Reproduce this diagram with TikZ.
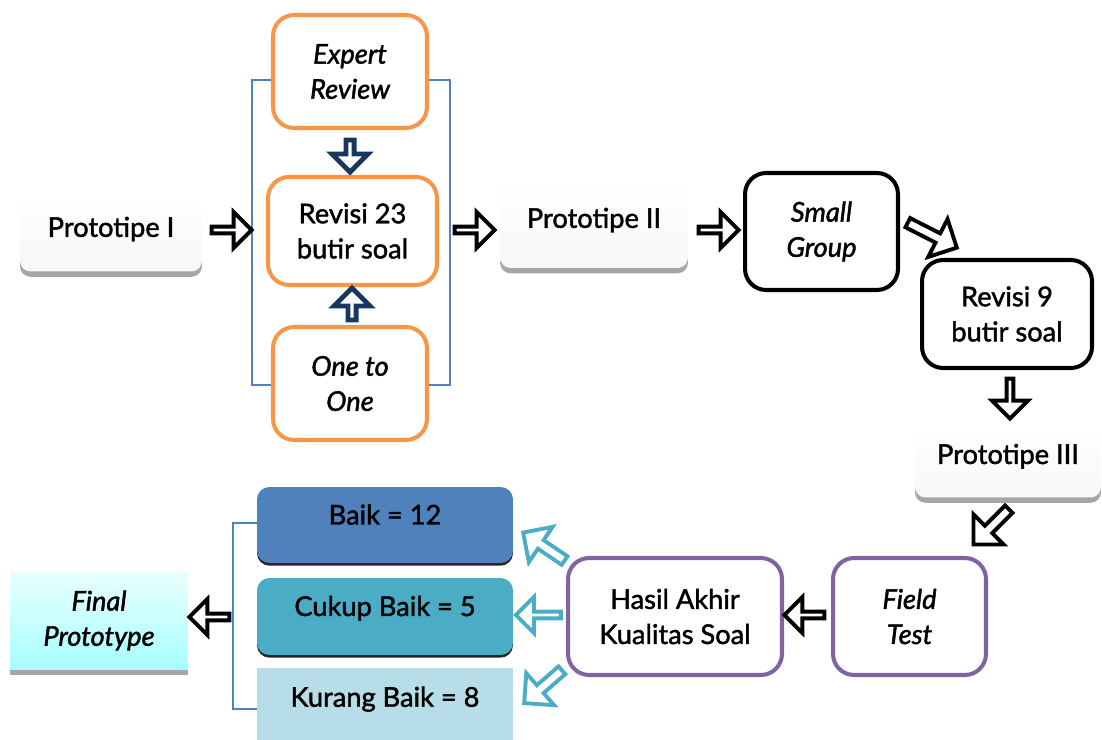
\documentclass[tikz,border=0pt]{standalone}
\usepackage{fontspec}
\setmainfont{Lato}[FakeBold=1.6]
\usetikzlibrary{shapes.arrows,shadows}

\definecolor{oranye}{HTML}{F79646}
\definecolor{ungu}{HTML}{8064A2}
\definecolor{biru}{HTML}{4F81BD}
\definecolor{navy}{HTML}{17375E}
\definecolor{tosca}{HTML}{4BACC6}
\definecolor{muda}{HTML}{B7DDE8}

\begin{document}
\begin{tikzpicture}[
    x=0.02cm, y=-0.02cm,
    font=\fontsize{15.5}{20}\selectfont,
    proto/.style={rectangle, rounded corners=6pt, top color=white, bottom color=gray!6,
        align=center, drop shadow={shadow xshift=0pt, shadow yshift=-3pt, fill=gray!70, opacity=1}},
    kotak/.style={rectangle, draw, rounded corners=12pt, line width=2.3pt, fill=white, align=center},
    hasil/.style={rectangle, rounded corners=7pt, align=center, text depth=12pt,
        drop shadow={shadow xshift=0pt, shadow yshift=-1.5pt, fill=black!85, opacity=1}},
    panah/.style={single arrow, draw, fill=white, line width=2.2pt, inner sep=0pt,
        minimum width=0.72cm, minimum height=0.8cm, single arrow head extend=0.17cm},
    miring/.style={panah, minimum width=0.85cm, single arrow head extend=0.12cm},
    panahnavy/.style={panah, draw=navy, line width=2.8pt},
    panahtosca/.style={panah, draw=tosca, minimum height=1cm},
    kurung/.style={draw=biru, line width=0.9pt},
]
\clip (0,0) rectangle (1102,740);

% baris atas
\node[proto, minimum width=3.64cm, minimum height=1.54cm, text depth=7pt] (proto1) at (111, 233) {Prototipe I};
\node[kotak, draw=oranye, minimum width=3.08cm, minimum height=2.26cm] (expert) at (350, 71.5) {\itshape Expert\\\itshape Review};
\node[kotak, draw=oranye, minimum width=3.38cm, minimum height=2.16cm] (rev23) at (352.5, 231) {Revisi 23\\butir soal};
\node[kotak, draw=oranye, minimum width=3.08cm, minimum height=2.26cm] (one) at (350, 383.5) {\itshape One to\\\itshape One};
\node[proto, minimum width=3.76cm, minimum height=1.76cm, text depth=7pt] (proto2) at (594, 224) {Prototipe II};
\node[kotak, minimum width=3.06cm, minimum height=2.34cm] (small) at (821.5, 231.5) {\itshape Small\\\itshape Group};
\node[kotak, minimum width=3.4cm, minimum height=2.16cm] (rev9) at (1007, 314) {Revisi 9\\butir soal};
\node[proto, minimum width=3.72cm, minimum height=1.46cm, text depth=8pt] (proto3) at (1008, 461) {Prototipe III};

% baris bawah
\node[kotak, draw=ungu, minimum width=3.06cm, minimum height=2.34cm] (field) at (909.5, 616.5) {\itshape Field\\\itshape Test};
\node[kotak, draw=ungu, minimum width=4.28cm, minimum height=2.34cm] (akhir) at (675, 616.5) {Hasil Akhir\\Kualitas Soal};
\node[hasil, fill=biru, minimum width=5.12cm, minimum height=1.52cm] (baik) at (385, 525) {Baik = 12};
\node[hasil, fill=tosca, minimum width=5.12cm, minimum height=1.54cm] (cukup) at (385, 616.5) {Cukup Baik = 5};
\node[rectangle, fill=muda, minimum width=5.12cm, minimum height=1.64cm, text depth=14pt] (kurang) at (385, 709) {Kurang Baik = 8};
\node[rectangle, top color=cyan!8, bottom color=cyan!35, align=center, minimum width=3.56cm, minimum height=1.98cm,
    drop shadow={shadow xshift=0pt, shadow yshift=-3pt, fill=gray!70, opacity=1}] (final) at (99, 620.5) {\itshape Final\\\itshape Prototype};

% kurung biru
\draw[kurung] (expert.west |- 0,80) -| (252,385) -- (one.west |- 0,385);
\draw[kurung] (expert.east |- 0,80) -| (450,385) -- (one.east |- 0,385);
\draw[kurung] (baik.west |- 0,523) -| (233,709) -- (kurang.west |- 0,709);

% panah blok
\node[panah] (p1) at (230, 230) {};
\node[panahnavy, rotate=270, minimum height=0.64cm] (p2) at (350, 154) {};
\node[panahnavy, rotate=90, minimum height=0.64cm] (p3) at (352, 306) {};
\node[panah] (p4) at (473, 230) {};
\node[panah] (p5) at (717, 230) {};
\node[miring, rotate=-27, minimum height=1.1cm] (p6) at (930, 234) {};
\node[panah, rotate=270] (p7) at (1010, 397) {};
\node[miring, rotate=225, minimum height=1cm] (p8) at (993, 525) {};
\node[panah, rotate=180] (p9) at (806, 615) {};
\node[panahtosca, miring, draw=tosca, rotate=146, minimum height=1cm] (t1) at (546, 548) {};
\node[panahtosca, rotate=180, minimum height=0.9cm] (t2) at (540, 615) {};
\node[panahtosca, miring, draw=tosca, rotate=221, minimum height=1cm] (t3) at (545, 685) {};
\node[panah, rotate=180] (p10) at (211, 617) {};

\end{tikzpicture}
\end{document}
